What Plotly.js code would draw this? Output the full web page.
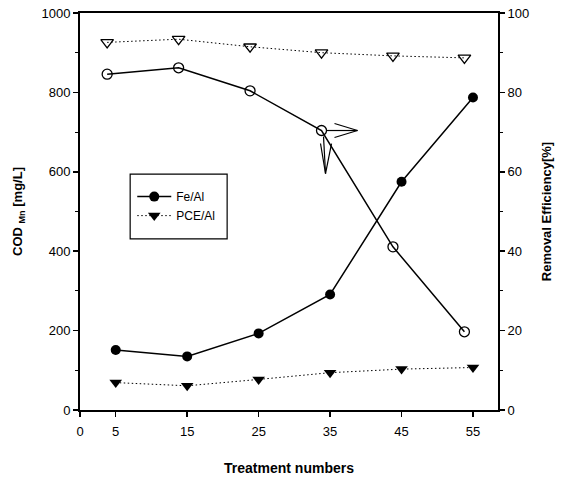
<!DOCTYPE html>
<html>
<head>
<meta charset="utf-8">
<script src="https://cdn.plot.ly/plotly-3.0.1.min.js"></script>
<style>html,body{margin:0;padding:0;background:#fff;}#chart{width:563px;height:479px;}</style>
</head>
<body>
<div id="chart"></div>
<script>
// Treatment numbers
const treatments = [5, 15, 25, 35, 45, 55];
// removal-efficiency points are drawn slightly left of each treatment in the original
const treatmentsEff = [3.8, 13.8, 23.8, 33.8, 43.8, 53.8];
// COD_Mn [mg/L]
const codFeAl = [151, 135, 193, 291, 575, 787];
const codPceAl = [69, 61, 77, 94, 103, 107];
// Removal efficiency [%]
const effFeAl = [84.6, 86.2, 80.4, 70.4, 41.1, 19.7];
const effPceAl = [92.6, 93.4, 91.5, 90.0, 89.2, 88.7];
// tick labels
const xTicks = [0, 5, 15, 25, 35, 45, 55];
const seriesNames = ['Fe/Al', 'PCE/Al'];

const font = {family: 'Liberation Sans, Arial, sans-serif', color: '#000'};

const traces = [
  {x: treatments, y: codFeAl, name: seriesNames[0], type: 'scatter', mode: 'lines+markers',
   line: {color: '#000', width: 1.5}, marker: {symbol: 'circle', size: 10, color: '#000'}},
  {x: treatments, y: codPceAl, name: seriesNames[1], type: 'scatter', mode: 'lines+markers',
   line: {color: '#000', width: 1, dash: '1.5px,2.5px'}, marker: {symbol: 'triangle-down', size: 11, color: '#000'}},
  {x: treatmentsEff, y: effFeAl, name: seriesNames[0] + ' eff', yaxis: 'y2', showlegend: false,
   type: 'scatter', mode: 'lines+markers',
   line: {color: '#000', width: 1.5},
   marker: {symbol: 'circle-open', size: 10, color: '#000', line: {width: 1.3, color: '#000'}}},
  {x: treatmentsEff, y: effPceAl, name: seriesNames[1] + ' eff', yaxis: 'y2', showlegend: false,
   type: 'scatter', mode: 'lines+markers',
   line: {color: '#000', width: 1, dash: '1.5px,2.5px'},
   marker: {symbol: 'triangle-down-open', size: 11, color: '#000', line: {width: 1.3, color: '#000'}}}
];

// open chevron arrows anchored at the Fe/Al removal point of treatment 35
const ax0 = treatmentsEff[3], ay0 = effFeAl[3];
function seg(px0, py0, px1, py1) {
  return {type: 'line', xref: 'x', yref: 'y2', xsizemode: 'pixel', ysizemode: 'pixel',
          xanchor: ax0, yanchor: ay0, x0: px0, y0: py0, x1: px1, y1: py1,
          line: {color: '#000', width: 1.2}};
}
const arrowShapes = [
  seg(5, 0, 36, 0), seg(36, 0, 13, 7), seg(36, 0, 13, -7),
  seg(2, -6, 4, -43), seg(4, -43, -1, -13), seg(4, -43, 10, -13),
  {type: 'rect', xref: 'paper', yref: 'paper', x0: 0.12, x1: 0.352, y0: 0.431, y1: 0.594,
   line: {color: '#000', width: 1.2}, fillcolor: 'rgba(0,0,0,0)', layer: 'below'}
];

const layout = {
  width: 563, height: 479,
  margin: {l: 80, r: 65, t: 13, b: 69},
  paper_bgcolor: '#fff', plot_bgcolor: '#fff',
  font: Object.assign({size: 13}, font),
  showlegend: true,
  legend: {x: 0.125, y: 0.574, xanchor: 'left', yanchor: 'top',
           borderwidth: 0, bgcolor: 'rgba(0,0,0,0)',
           font: Object.assign({size: 12}, font), itemwidth: 34},
  xaxis: {range: [0, 58.5], tickvals: xTicks, ticktext: xTicks.map(String),
          showline: true, linecolor: '#000', linewidth: 2, mirror: true,
          ticks: 'outside', ticklen: 5, tickwidth: 1.5, tickcolor: '#000',
          ticklabelstandoff: 3,
          showgrid: false, zeroline: false,
          tickfont: Object.assign({size: 13}, font),
          title: {text: '<b>Treatment numbers</b>', font: Object.assign({size: 14}, font), standoff: 26}},
  yaxis: {range: [0, 1000], dtick: 200, showline: true, linecolor: '#000', linewidth: 2,
          ticks: 'outside', ticklen: 5, tickwidth: 1.5, tickcolor: '#000',
          minor: {dtick: 100, ticks: 'outside', ticklen: 3, tickcolor: '#000', tickwidth: 1},
          showgrid: false, zeroline: false,
          tickfont: Object.assign({size: 13}, font),
          title: {text: '<b>COD <sub>Mn</sub> [mg/L]</b>', font: Object.assign({size: 13}, font), standoff: 16}},
  yaxis2: {range: [0, 100], dtick: 20, overlaying: 'y', side: 'right',
           showline: true, linecolor: '#000', linewidth: 2,
           ticks: 'outside', ticklen: 5, tickwidth: 1.5, tickcolor: '#000',
           minor: {dtick: 10, ticks: 'outside', ticklen: 3, tickcolor: '#000', tickwidth: 1},
           showgrid: false, zeroline: false,
           tickfont: Object.assign({size: 13}, font),
           title: {text: '<b>Removal Efficiency[%]</b>', font: Object.assign({size: 13}, font), standoff: 14}},
  shapes: arrowShapes
};

Plotly.newPlot('chart', traces, layout, {displayModeBar: false, staticPlot: true});
</script>
</body>
</html>
